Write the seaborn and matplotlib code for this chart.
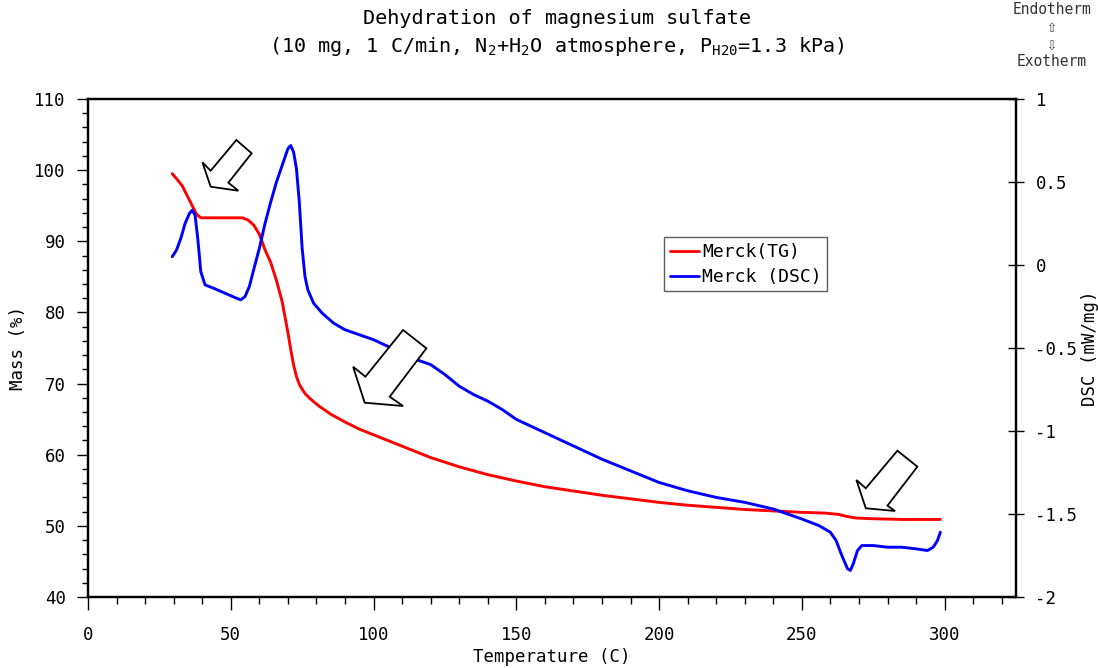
import numpy as np
import pandas as pd
import matplotlib
matplotlib.use("Agg")
import matplotlib.pyplot as plt
import matplotlib.transforms as mtransforms
from matplotlib.patches import Polygon
from matplotlib.lines import Line2D
from matplotlib.ticker import MultipleLocator
import seaborn as sns

# ---- data -------------------------------------------------------------
tg_temp = [29.5, 31, 33, 35, 36.5, 38, 39.5, 42, 46, 50, 54, 56, 58, 60, 62, 64,
           66, 68, 70, 71, 72, 73, 74, 75, 76, 78, 81, 85, 90, 95, 100, 110, 120,
           130, 140, 150, 160, 170, 180, 190, 200, 210, 220, 230, 240, 250, 258,
           263, 266, 269, 275, 285, 298.5]
tg_mass = [99.5, 98.8, 97.8, 96.2, 95.0, 93.8, 93.3, 93.3, 93.3, 93.3, 93.3, 93.0,
           92.3, 91.0, 88.8, 87.0, 84.5, 81.5, 77.2, 74.8, 72.6, 71.0, 69.9, 69.2,
           68.6, 67.8, 66.8, 65.7, 64.6, 63.6, 62.8, 61.2, 59.6, 58.3, 57.2, 56.3,
           55.5, 54.9, 54.3, 53.8, 53.3, 52.9, 52.6, 52.3, 52.1, 51.9, 51.8, 51.6,
           51.3, 51.1, 51.0, 50.9, 50.9]

dsc_temp = [29.5, 31, 32.5, 34, 35.5, 36.5, 37.5, 38.5, 39.5, 41, 44, 48, 52, 53.5,
            55, 56.5, 58, 60, 62, 64, 66, 68, 70, 71, 72, 73, 74, 75, 76, 77, 79,
            82, 86, 90, 95, 100, 105, 110, 115, 120, 125, 130, 135, 140, 145, 150,
            160, 170, 180, 190, 200, 210, 220, 230, 240, 250, 256, 260, 262, 264,
            266, 267, 268, 269.5, 271, 275, 280, 285, 290, 294, 296, 297.5, 298.5]
dsc_val = [0.05, 0.09, 0.16, 0.25, 0.31, 0.33, 0.30, 0.15, -0.04, -0.12, -0.14,
           -0.17, -0.20, -0.21, -0.19, -0.13, -0.03, 0.10, 0.25, 0.38, 0.50, 0.60,
           0.70, 0.72, 0.68, 0.58, 0.38, 0.10, -0.07, -0.15, -0.23, -0.29, -0.35,
           -0.39, -0.42, -0.45, -0.49, -0.53, -0.57, -0.60, -0.66, -0.73, -0.78,
           -0.82, -0.87, -0.93, -1.01, -1.09, -1.17, -1.24, -1.31, -1.36, -1.40,
           -1.43, -1.47, -1.53, -1.57, -1.61, -1.66, -1.75, -1.83, -1.84, -1.80,
           -1.72, -1.69, -1.69, -1.70, -1.70, -1.71, -1.72, -1.70, -1.66, -1.61]

series_names = ["Merck(TG)", "Merck (DSC)"]
series_colors = ["#ff0000", "#0000ff"]

title_lines = ["Dehydration of magnesium sulfate",
               r"(10 mg, 1 C/min, N$_2$+H$_2$O atmosphere, P$_{\mathrm{H20}}$=1.3 kPa)"]

# ---- style ------------------------------------------------------------
sns.set_style("ticks")
plt.rcParams["font.family"] = ["DejaVu Sans Mono", "DejaVu Sans"]
plt.rcParams["mathtext.fontset"] = "custom"
plt.rcParams["mathtext.rm"] = "DejaVu Sans Mono"
plt.rcParams["mathtext.it"] = "DejaVu Sans Mono"
plt.rcParams["axes.linewidth"] = 1.6
plt.rcParams["text.color"] = "black"
plt.rcParams["axes.labelcolor"] = "black"
plt.rcParams["xtick.color"] = "black"
plt.rcParams["ytick.color"] = "black"

fig = plt.figure(figsize=(10.98, 6.68), dpi=100)
ax = fig.add_axes([88 / 1098, 71 / 668, 928 / 1098, 498 / 668])
ax2 = ax.twinx()

tg_df = pd.DataFrame({"Temperature": tg_temp, "Mass": tg_mass})
dsc_df = pd.DataFrame({"Temperature": dsc_temp, "DSC": dsc_val})

sns.lineplot(data=tg_df, x="Temperature", y="Mass", ax=ax, color=series_colors[0],
             lw=2.1, sort=False, estimator=None)
sns.lineplot(data=dsc_df, x="Temperature", y="DSC", ax=ax2, color=series_colors[1],
             lw=2.1, sort=False, estimator=None)

# ---- axes -------------------------------------------------------------
ax.set_xlim(0, 325)
ax.set_ylim(40, 110)
ax2.set_ylim(-2, 1)

ax.xaxis.set_major_locator(MultipleLocator(50))
ax.xaxis.set_minor_locator(MultipleLocator(10))
ax.yaxis.set_major_locator(MultipleLocator(10))
ax.yaxis.set_minor_locator(MultipleLocator(2))
ax2.set_yticks([1, 0.5, 0, -0.5, -1, -1.5, -2])
ax2.set_yticklabels(["1", "0.5", "0", "-0.5", "-1", "-1.5", "-2"])

tick_font = 12.5
ax.tick_params(axis="x", which="major", direction="out", length=9, width=1,
               labelsize=tick_font, pad=12)
ax.tick_params(axis="x", which="minor", direction="out", length=5, width=1)
ax.tick_params(axis="y", which="major", direction="out", length=8, width=1,
               labelsize=tick_font, pad=8)
ax.tick_params(axis="y", which="minor", direction="out", length=4, width=1)
ax2.tick_params(axis="y", which="major", direction="inout", length=12, width=1,
                labelsize=tick_font, pad=8)

for a in (ax, ax2):
    for s in a.spines.values():
        s.set_visible(True)
        s.set_linewidth(1.6)
        s.set_color("black")

ax.set_xlabel("Temperature (C)", fontsize=12.5)
ax.set_ylabel("Mass (%)", fontsize=12.5)
ax2.set_ylabel("DSC (mW/mg)", fontsize=12.5, rotation=90, va="center", ha="center")
ax.xaxis.set_label_coords(0.5, -0.103)
ax.yaxis.set_label_coords(-0.0657, 0.5)
ax2.yaxis.set_label_coords((1090 - 88) / 928, 0.5)

# ---- legend -----------------------------------------------------------
handles = [Line2D([], [], color=c, lw=2.0) for c in series_colors]
leg = ax2.legend(handles, series_names, loc="upper left",
                 bbox_to_anchor=(0.621, 0.722), fontsize=13, frameon=True,
                 fancybox=False, handlelength=1.6, handletextpad=0.2,
                 borderpad=0.3, labelspacing=0.4, borderaxespad=0)
leg.get_frame().set_edgecolor("#333333")
leg.get_frame().set_linewidth(1.0)

# ---- hollow block arrows (shapes in pixels, tip anchored in data) -----
arrow_shapes = [
    ((42.96, 97.67), [(25.7, -46.7), (41, -33.4), (17.7, -4), (27.7, 4), (0, 0),
                      (-8.3, -24.4), (0, -16)]),
    ((96.9, 67.31), [(38.4, -72.7), (61.7, -54.4), (25, -6), (38.4, 3.3), (0, 0),
                     (-11.6, -36), (0.7, -26)]),
    ((272.4, 52.47), [(31.6, -57.6), (51.6, -41.6), (21.6, -2.6), (29.3, 2.7), (0, 0),
                      (-9.4, -28.3), (0, -20)]),
]
for (tx, ty), verts in arrow_shapes:
    pts = np.array([(dx / 100.0, -dy / 100.0) for dx, dy in verts])
    trans = fig.dpi_scale_trans + mtransforms.ScaledTranslation(tx, ty, ax.transData)
    poly = Polygon(pts, closed=True, facecolor="white", edgecolor="black",
                   lw=1.3, transform=trans, zorder=10)
    ax2.add_patch(poly)

# ---- titles -----------------------------------------------------------
fig.text(557 / 1098, 1 - 18 / 668, title_lines[0], ha="center", va="center",
         fontsize=14.5)
fig.text(557 / 1098, 1 - 47 / 668, title_lines[1], ha="center", va="center",
         fontsize=14.5)

# endotherm / exotherm direction note
note_x = 1052 / 1098
fig.text(note_x, 1 - 10 / 668, "Endotherm", ha="center", va="center",
         fontsize=10.5, color="#333333")
fig.text(note_x, 1 - 36 / 668, "\u21e7\n\u21e9", ha="center", va="center",
         fontsize=12, linespacing=1.0, color="#333333")
fig.text(note_x, 1 - 62 / 668, "Exotherm", ha="center", va="center",
         fontsize=10.5, color="#333333")

fig.savefig("out.png", dpi=100)
